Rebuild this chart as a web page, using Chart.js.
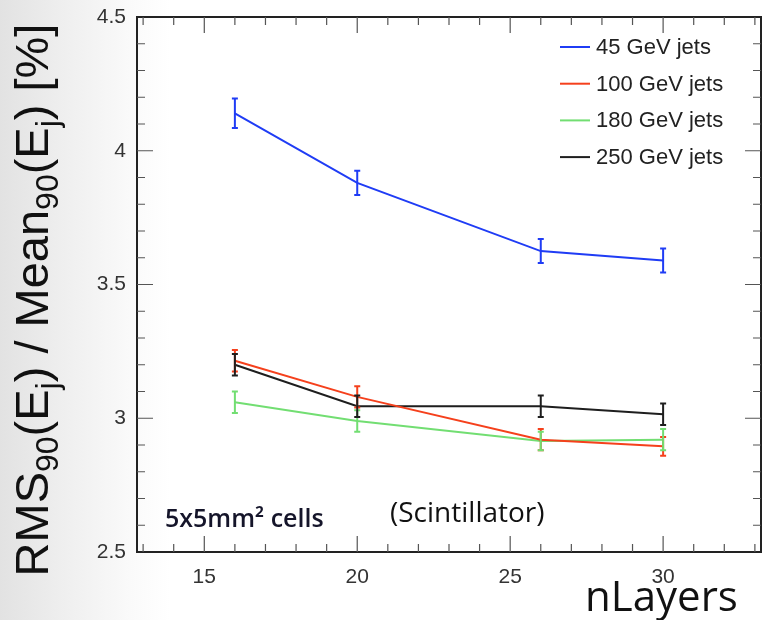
<!DOCTYPE html>
<html>
<head>
<meta charset="utf-8">
<script src="https://cdn.jsdelivr.net/npm/chart.js@4"></script>
<style>
  html, body { margin: 0; padding: 0; }
  body {
    width: 770px; height: 620px; overflow: hidden;
    background: linear-gradient(to right, #e2e2e2 0px, #eeeeee 60px, #fafafa 130px, #ffffff 170px);
  }
  #wrap { position: relative; width: 770px; height: 620px; }
</style>
</head>
<body>
<div id="wrap"><canvas id="myChart" width="770" height="620"></canvas></div>
<script>
// chart data
const layers = [16, 20, 26, 30];
const jets45 = [4.14, 3.88, 3.625, 3.59];
const err45 = [0.055, 0.045, 0.045, 0.045];
const jets100 = [3.215, 3.08, 2.92, 2.895];
const err100 = [0.04, 0.04, 0.04, 0.035];
const jets180 = [3.06, 2.99, 2.915, 2.92];
const err180 = [0.04, 0.04, 0.035, 0.04];
const jets250 = [3.2, 3.045, 3.045, 3.015];
const err250 = [0.04, 0.04, 0.04, 0.04];
const seriesNames = ['45 GeV jets', '100 GeV jets', '180 GeV jets', '250 GeV jets'];
const xTicks = [15, 20, 25, 30];
const yTicks = [2.5, 3, 3.5, 4, 4.5];

const colors = ['#1f3cf5', '#f5401c', '#72de72', '#1e1e1e'];
const values = [jets45, jets100, jets180, jets250];
const errors = [err45, err100, err180, err250];

function makeSet(i) {
  return {
    label: seriesNames[i],
    data: layers.map((x, k) => ({ x: x, y: values[i][k] })),
    errs: errors[i],
    borderColor: colors[i],
    backgroundColor: colors[i],
    borderWidth: 2,
    pointRadius: 0,
    tension: 0,
    showLine: true
  };
}

// error bars, frame with ROOT style ticks, legend and text labels
const extras = {
  id: 'extras',
  afterDatasetsDraw(chart) {
    const ctx = chart.ctx;
    const xs = chart.scales.x, ys = chart.scales.y;
    chart.data.datasets.forEach(ds => {
      ctx.save();
      ctx.strokeStyle = ds.borderColor;
      ctx.lineWidth = 2;
      ds.data.forEach((p, k) => {
        const px = xs.getPixelForValue(p.x);
        const top = ys.getPixelForValue(p.y + ds.errs[k]);
        const bot = ys.getPixelForValue(p.y - ds.errs[k]);
        ctx.beginPath();
        ctx.moveTo(px, top); ctx.lineTo(px, bot);
        ctx.moveTo(px - 3, top); ctx.lineTo(px + 3, top);
        ctx.moveTo(px - 3, bot); ctx.lineTo(px + 3, bot);
        ctx.stroke();
      });
      ctx.restore();
    });
  },
  afterDraw(chart) {
    const ctx = chart.ctx;
    const a = chart.chartArea;
    const xs = chart.scales.x, ys = chart.scales.y;
    ctx.save();
    // frame
    ctx.strokeStyle = '#222';
    ctx.lineWidth = 2;
    ctx.strokeRect(a.left, a.top, a.right - a.left, a.bottom - a.top);
    // ticks
    ctx.lineWidth = 1.2;
    ctx.strokeStyle = '#555';
    ctx.beginPath();
    for (let v = 13; v <= 33; v++) {
      const px = xs.getPixelForValue(v);
      const len = v % 5 === 0 ? 16 : 8;
      ctx.moveTo(px, a.bottom); ctx.lineTo(px, a.bottom - len);
      ctx.moveTo(px, a.top); ctx.lineTo(px, a.top + len);
    }
    for (let v = 26; v < 45; v++) {
      const py = ys.getPixelForValue(v / 10);
      const len = v % 5 === 0 ? 16 : 8;
      ctx.moveTo(a.left, py); ctx.lineTo(a.left + len, py);
      ctx.moveTo(a.right, py); ctx.lineTo(a.right - len, py);
    }
    ctx.stroke();

    // legend
    ctx.font = '22px "Liberation Sans", Arial, sans-serif';
    ctx.textBaseline = 'middle';
    ctx.textAlign = 'left';
    chart.data.datasets.forEach((ds, i) => {
      const y = 47 + i * 36.7;
      ctx.strokeStyle = ds.borderColor;
      ctx.lineWidth = 2;
      ctx.beginPath();
      ctx.moveTo(560, y); ctx.lineTo(590, y);
      ctx.stroke();
      ctx.fillStyle = '#222';
      ctx.fillText(ds.label, 596, y + 1);
    });

    // text annotations
    ctx.fillStyle = '#15152a';
    ctx.font = '600 25px "Open Sans", sans-serif';
    ctx.fillText('5x5mm² cells', 165, 520);
    ctx.fillStyle = '#111';
    ctx.font = '28px "Open Sans", sans-serif';
    ctx.fillText('(Scintillator)', 390, 514);
    ctx.font = '42px "Open Sans", sans-serif';
    ctx.fillText('nLayers', 585, 599);

    // y title with subscripts
    const parts = [
      ['RMS', 0], ['90', 1], ['(E', 0], ['j', 1], [') / Mean', 0], ['90', 1], ['(E', 0], ['j', 1], [') [%]', 0]
    ];
    const big = '47px "Liberation Sans", Arial, sans-serif';
    const small = '32px "Liberation Sans", Arial, sans-serif';
    let total = 0;
    parts.forEach(p => { ctx.font = p[1] ? small : big; total += ctx.measureText(p[0]).width; });
    ctx.translate(48, 300);
    ctx.rotate(-Math.PI / 2);
    ctx.textBaseline = 'alphabetic';
    ctx.fillStyle = '#111';
    let cx = -total / 2;
    parts.forEach(p => {
      ctx.font = p[1] ? small : big;
      ctx.fillText(p[0], cx, p[1] ? 10 : 0);
      cx += ctx.measureText(p[0]).width;
    });
    ctx.restore();
  }
};

document.addEventListener('DOMContentLoaded', () => {
  const ctx = document.getElementById('myChart').getContext('2d');
  const myChart = new Chart(ctx, {
    type: 'scatter',
    data: {
      datasets: [makeSet(0), makeSet(1), makeSet(2), makeSet(3)]
    },
    options: {
      responsive: false,
      animation: false,
      layout: { autoPadding: false, padding: { top: 17, right: 9, left: 0, bottom: 0 } },
      plugins: {
        legend: { display: false },
        tooltip: { enabled: false }
      },
      scales: {
        x: {
          type: 'linear',
          min: 12.8,
          max: 33.2,
          grid: { display: false, drawTicks: false },
          border: { display: false },
          afterBuildTicks: axis => { axis.ticks = xTicks.map(v => ({ value: v })); },
          afterFit: axis => {
            axis.height = 68;
            axis.paddingLeft = 0;
            axis.paddingRight = 0;
          },
          ticks: {
            padding: 13,
            color: '#333',
            font: { family: '"Liberation Sans", Arial, sans-serif', size: 21 }
          }
        },
        y: {
          min: 2.5,
          max: 4.5,
          grid: { display: false, drawTicks: false },
          border: { display: false },
          afterBuildTicks: axis => { axis.ticks = yTicks.map(v => ({ value: v })); },
          afterFit: axis => {
            axis.width = 137;
            axis.paddingTop = 0;
            axis.paddingBottom = 0;
          },
          ticks: {
            padding: 11,
            color: '#333',
            font: { family: '"Liberation Sans", Arial, sans-serif', size: 21 },
            callback: v => String(v)
          }
        }
      }
    },
    plugins: [extras]
  });
});
</script>
</body>
</html>
